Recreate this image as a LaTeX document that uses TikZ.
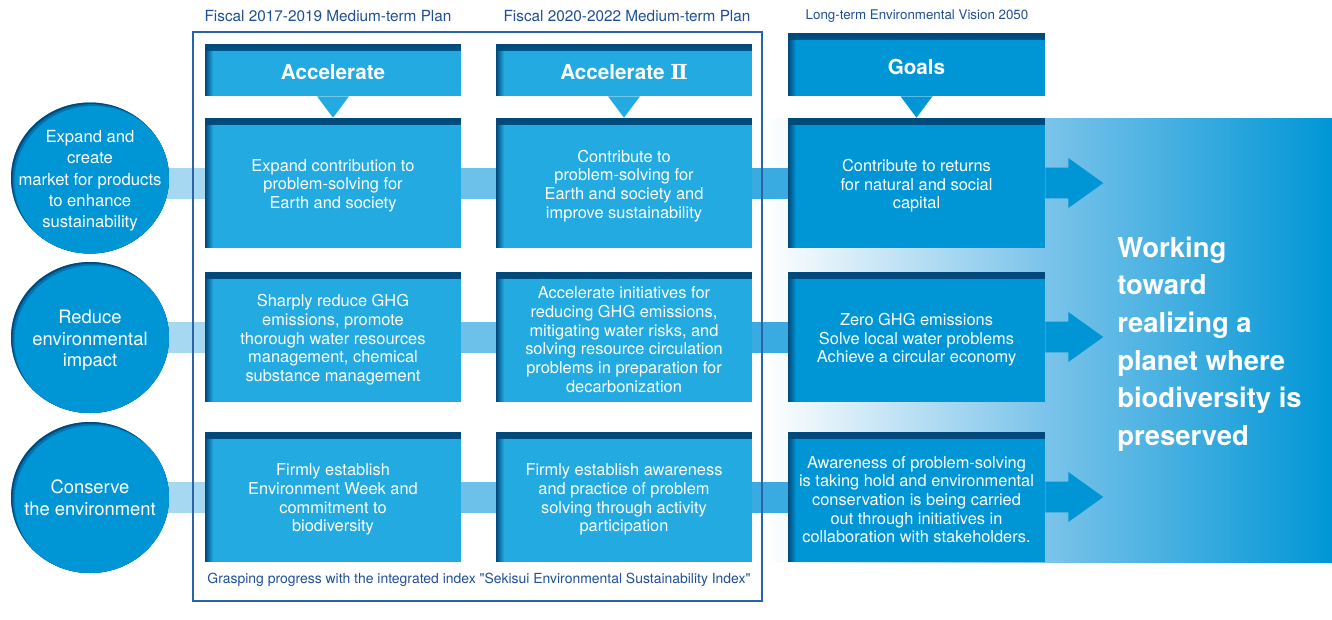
\documentclass[tikz,border=0pt]{standalone}
\usepackage{fontspec}
\setmainfont{TeX Gyre Heros}[Ligatures=TeXOff]
\newfontfamily\numfont{DejaVu Serif}
\usetikzlibrary{shapes.geometric,fadings,backgrounds}
\definecolor{planblue}{HTML}{22AAE1}
\definecolor{goalblue}{HTML}{0096D6}
\definecolor{shadeblue}{HTML}{00497A}
\definecolor{bandA}{HTML}{A6D8F1}
\definecolor{bandB}{HTML}{6CC1EA}
\definecolor{bandC}{HTML}{3AABE1}
\definecolor{framebl}{HTML}{2A64A8}
\definecolor{labelbl}{HTML}{1F4E96}
\definecolor{visionmid}{HTML}{7CC4EA}
\pgfdeclarehorizontalshading{vision}{100bp}{color(0bp)=(white); color(25bp)=(white); color(49.5bp)=(visionmid); color(75bp)=(goalblue); color(100bp)=(goalblue)}
\begin{document}
\begin{tikzpicture}[x=0.75pt, y=-0.75pt,
    edgeshade/.style={path picture={
        \fill[shadeblue, path fading=south] (path picture bounding box.north west) rectangle ([yshift=-5pt]path picture bounding box.north east);
        \fill[shadeblue, path fading=east] (path picture bounding box.north west) rectangle ([xshift=6pt]path picture bounding box.south west);}},
    plan/.style={fill=planblue, minimum width=192pt, minimum height=97.5pt, inner sep=0pt, edgeshade,
      label={[plantext]center:#1}},
    plantext/.style={align=center, text=white, inner sep=0pt, yshift=-2pt, font=\fontsize{12.3}{14}\selectfont},
    goal/.style={plan={#1}, fill=goalblue, minimum width=192.75pt},
    head/.style={fill=planblue, minimum width=192pt, minimum height=39pt, inner sep=0pt, text=white,
      font=\fontsize{15.5}{18}\selectfont\bfseries, execute at begin node={\rule{0pt}{15pt}}, edgeshade},
    aim/.style={ellipse, fill=goalblue, minimum width=118.5pt, minimum height=113.25pt, inner sep=0pt,
      path picture={
        \fill[shadeblue] (path picture bounding box.center) ellipse [x radius=60pt, y radius=57pt];
        \fill[goalblue!55!shadeblue] ([shift={(1.2pt,-1.2pt)}]path picture bounding box.center) ellipse [x radius=59.25pt, y radius=56.6pt];
        \fill[goalblue] ([shift={(2.6pt,-2.6pt)}]path picture bounding box.center) ellipse [x radius=59.25pt, y radius=56.6pt];}},
    aimtxt/.style={align=center, text=white, inner sep=0pt, font=\fontsize{13.8}{16.2}\selectfont},
    plantitle/.style={text=labelbl, inner sep=0pt, font=\fontsize{11.5}{13}\selectfont},
    band/.style={line width=23.25pt}]
  \useasboundingbox (0,0) rectangle (1332,619);
  \node[plantitle] (t1) at (328,16) {Fiscal 2017-2019 Medium-term Plan};
  \node[plantitle] (t2) at (627,16) {Fiscal 2020-2022 Medium-term Plan};
  \node[plantitle, font=\fontsize{10}{12}\selectfont] (t3) at (917,16) {Long-term Environmental Vision 2050};
  \node[head] (hdrA) at (333,70) {Accelerate};
  \node[head] (hdrB) at (624,70) {Accelerate {\numfont Ⅱ}};
  \node[head, fill=goalblue, minimum width=192.75pt, minimum height=47.25pt] (hdrG) at (916.5,64.5) {Goals};
  \node[aim, label={[aimtxt, yshift=-2.2pt, font=\fontsize{12.5}{16}\selectfont]center:Expand and\\create\\market for products\\to enhance\\sustainability}] (c1) at (90,178) {};
  \node[aim, label={[aimtxt, yshift=-2.2pt]center:Reduce\\environmental\\impact}] (c2) at (90,337.5) {};
  \node[aim, label={[aimtxt]center:Conserve\\the environment}] (c3) at (90,497.5) {};
  \node[plan={Expand contribution to\\problem-solving for\\Earth and society}] (a1) at (333,183) {};
  \node[plan={Contribute to\\problem-solving for\\Earth and society and\\improve sustainability}] (b1) at (624,183) {};
  \node[goal={Contribute to returns\\for natural and social\\capital}] (g1) at (916.5,183) {};
  \node[plan={Sharply reduce GHG\\emissions, promote\\thorough water resources\\management, chemical\\substance management}] (a2) at (333,337) {};
  \node[plan={Accelerate initiatives for\\reducing GHG emissions,\\mitigating water risks, and\\solving resource circulation\\problems in preparation for\\decarbonization}] (b2) at (624,337) {};
  \node[goal={Zero GHG emissions\\Solve local water problems\\Achieve a circular economy}] (g2) at (916.5,337) {};
  \node[plan={Firmly establish\\Environment Week and\\commitment to\\biodiversity}] (a3) at (333,497) {};
  \node[plan={Firmly establish awareness\\and practice of problem\\solving through activity\\participation}] (b3) at (624,497) {};
  \node[goal={Awareness of problem-solving\\is taking hold and environmental\\conservation is being carried\\out through initiatives in\\collaboration with stakeholders.}] (g3) at (916.5,497) {};
  \node[anchor=west, align=left, text=white, inner sep=0pt, font=\fontsize{20.6}{28.2}\selectfont\bfseries] (planet) at (1117,344) {Working\\toward\\realizing a\\planet where\\biodiversity is\\preserved};
  \node[plantitle, font=\fontsize{10.45}{12}\selectfont] (idx) at (479,580) {Grasping progress with the integrated index "Sekisui Environmental Sustainability Index"};
  \foreach \h/\b/\c in {hdrA/a1/planblue, hdrB/b1/planblue, hdrG/g1/goalblue}
    \fill[\c] ([xshift=-12pt]\h.south) -- ([xshift=12pt]\h.south) -- (\b.north) -- cycle;
  \foreach \r in {1,2,3}
    \fill[goalblue] ([yshift=11.6pt]g\r.east) -- ++(17.25pt,0) -- ++(0,7.2pt) -- ([xshift=43.5pt]g\r.east)
      -- ([xshift=17.25pt, yshift=-18.8pt]g\r.east) -- ++(0,7.2pt) -- ([yshift=-11.6pt]g\r.east) -- cycle;
  \begin{pgfonlayer}{background}
    \shade[shading=vision] (765,118) rectangle (1332,562);
    \foreach \r in {1,2,3} {
      \draw[band, bandA] (c\r.center |- a\r.center) -- (a\r.center);
      \draw[band, bandB] (a\r) -- (b\r);
      \draw[band, bandC] (b\r) -- (g\r);
    }
    \draw[framebl, line width=0.9pt] (193,32) rectangle (762,601);
  \end{pgfonlayer}
\end{tikzpicture}
\end{document}
